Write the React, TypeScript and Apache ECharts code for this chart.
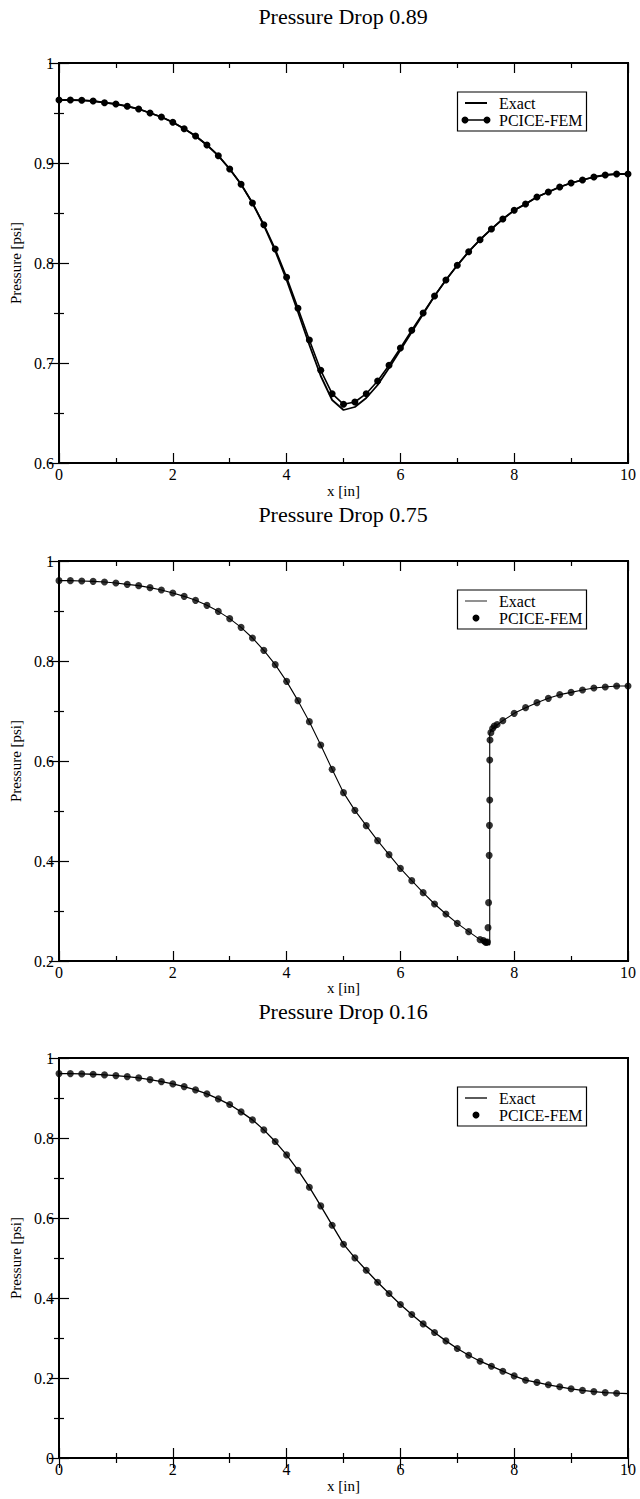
import React, { useEffect, useRef } from "react";
import * as echarts from "echarts";

const titles = ["Pressure Drop 0.89", "Pressure Drop 0.75", "Pressure Drop 0.16"];
const seriesNames = ["Exact", "PCICE-FEM"];
const xAxisName = "x [in]";
const yAxisName = "Pressure [psi]";

// Panel 1 (pressure drop 0.89)
const x1 = [0, 0.2, 0.4, 0.6, 0.8, 1.0, 1.2, 1.4, 1.6, 1.8, 2.0, 2.2, 2.4, 2.6, 2.8, 3.0, 3.2, 3.4, 3.6, 3.8, 4.0, 4.2, 4.4, 4.6, 4.8, 5.0, 5.2, 5.4, 5.6, 5.8, 6.0, 6.2, 6.4, 6.6, 6.8, 7.0, 7.2, 7.4, 7.6, 7.8, 8.0, 8.2, 8.4, 8.6, 8.8, 9.0, 9.2, 9.4, 9.6, 9.8, 10.0];
const fem1 = [0.963, 0.963, 0.9627, 0.962, 0.9603, 0.959, 0.9567, 0.954, 0.95, 0.946, 0.9407, 0.9343, 0.927, 0.918, 0.9073, 0.894, 0.8787, 0.86, 0.8383, 0.814, 0.7857, 0.7547, 0.723, 0.6927, 0.6693, 0.6587, 0.661, 0.6693, 0.682, 0.6977, 0.715, 0.7327, 0.75, 0.767, 0.783, 0.7977, 0.8113, 0.8233, 0.834, 0.844, 0.8527, 0.859, 0.866, 0.871, 0.876, 0.88, 0.883, 0.886, 0.888, 0.889, 0.889];
const exact1 = [0.963, 0.963, 0.9627, 0.962, 0.9603, 0.959, 0.9567, 0.954, 0.95, 0.946, 0.9407, 0.9343, 0.927, 0.918, 0.9073, 0.894, 0.8787, 0.86, 0.8375, 0.812, 0.783, 0.751, 0.718, 0.687, 0.663, 0.653, 0.656, 0.665, 0.678, 0.695, 0.713, 0.731, 0.749, 0.767, 0.783, 0.7977, 0.8113, 0.8233, 0.834, 0.844, 0.8527, 0.859, 0.866, 0.871, 0.876, 0.88, 0.883, 0.886, 0.888, 0.889, 0.889];

// Panel 2 (pressure drop 0.75)
const x2Fem = [0, 0.2, 0.4, 0.6, 0.8, 1.0, 1.2, 1.4, 1.6, 1.8, 2.0, 2.2, 2.4, 2.6, 2.8, 3.0, 3.2, 3.4, 3.6, 3.8, 4.0, 4.2, 4.4, 4.6, 4.8, 5.0, 5.2, 5.4, 5.6, 5.8, 6.0, 6.2, 6.4, 6.6, 6.8, 7.0, 7.2, 7.4, 7.46, 7.49, 7.51, 7.53, 7.54, 7.55, 7.56, 7.565, 7.57, 7.57, 7.575, 7.59, 7.62, 7.65, 7.7, 7.8, 8.0, 8.2, 8.4, 8.6, 8.8, 9.0, 9.2, 9.4, 9.6, 9.8, 10.0];
const fem2 = [0.9607, 0.9607, 0.96, 0.9593, 0.958, 0.956, 0.9533, 0.9507, 0.9467, 0.942, 0.936, 0.9293, 0.9213, 0.9113, 0.8993, 0.8847, 0.8673, 0.846, 0.8213, 0.7927, 0.7593, 0.7207, 0.6787, 0.632, 0.5833, 0.5367, 0.5013, 0.4707, 0.4407, 0.4127, 0.3853, 0.3607, 0.3367, 0.314, 0.294, 0.2753, 0.2587, 0.2427, 0.241, 0.238, 0.237, 0.238, 0.2667, 0.3167, 0.4113, 0.4713, 0.522, 0.602, 0.642, 0.6567, 0.665, 0.67, 0.673, 0.6807, 0.6953, 0.7067, 0.7167, 0.7253, 0.7327, 0.7373, 0.742, 0.746, 0.748, 0.75, 0.75];
const x2Exact = [0, 0.2, 0.4, 0.6, 0.8, 1.0, 1.2, 1.4, 1.6, 1.8, 2.0, 2.2, 2.4, 2.6, 2.8, 3.0, 3.2, 3.4, 3.6, 3.8, 4.0, 4.2, 4.4, 4.6, 4.8, 5.0, 5.2, 5.4, 5.6, 5.8, 6.0, 6.2, 6.4, 6.6, 6.8, 7.0, 7.2, 7.4, 7.5, 7.57, 7.57, 7.6, 7.7, 7.8, 8.0, 8.2, 8.4, 8.6, 8.8, 9.0, 9.2, 9.4, 9.6, 9.8, 10.0];
const exact2 = [0.9607, 0.9607, 0.96, 0.9593, 0.958, 0.956, 0.9533, 0.9507, 0.9467, 0.942, 0.936, 0.9293, 0.9213, 0.9113, 0.8993, 0.8847, 0.8673, 0.846, 0.8213, 0.7927, 0.7593, 0.7207, 0.6787, 0.632, 0.5833, 0.5367, 0.5013, 0.4707, 0.4407, 0.4127, 0.3853, 0.3607, 0.3367, 0.314, 0.294, 0.2753, 0.2587, 0.2427, 0.236, 0.232, 0.655, 0.663, 0.672, 0.6807, 0.6953, 0.7067, 0.7167, 0.7253, 0.7327, 0.7373, 0.742, 0.746, 0.748, 0.75, 0.75];

// Panel 3 (pressure drop 0.16)
const x3Fem = [0, 0.2, 0.4, 0.6, 0.8, 1.0, 1.2, 1.4, 1.6, 1.8, 2.0, 2.2, 2.4, 2.6, 2.8, 3.0, 3.2, 3.4, 3.6, 3.8, 4.0, 4.2, 4.4, 4.6, 4.8, 5.0, 5.2, 5.4, 5.6, 5.8, 6.0, 6.2, 6.4, 6.6, 6.8, 7.0, 7.2, 7.4, 7.6, 7.8, 8.0, 8.2, 8.4, 8.6, 8.8, 9.0, 9.2, 9.4, 9.6, 9.8];
const fem3 = [0.961, 0.961, 0.9603, 0.9594, 0.9578, 0.956, 0.9535, 0.9503, 0.946, 0.941, 0.9353, 0.9285, 0.9203, 0.9103, 0.8978, 0.8836, 0.8653, 0.8453, 0.8203, 0.7911, 0.7578, 0.7195, 0.677, 0.6303, 0.582, 0.5345, 0.5003, 0.4695, 0.4395, 0.4112, 0.3837, 0.3587, 0.3353, 0.3137, 0.2928, 0.2737, 0.257, 0.242, 0.2295, 0.217, 0.2053, 0.1945, 0.189, 0.183, 0.178, 0.173, 0.169, 0.166, 0.1635, 0.162];
const x3Exact = [0, 0.2, 0.4, 0.6, 0.8, 1.0, 1.2, 1.4, 1.6, 1.8, 2.0, 2.2, 2.4, 2.6, 2.8, 3.0, 3.2, 3.4, 3.6, 3.8, 4.0, 4.2, 4.4, 4.6, 4.8, 5.0, 5.2, 5.4, 5.6, 5.8, 6.0, 6.2, 6.4, 6.6, 6.8, 7.0, 7.2, 7.4, 7.6, 7.8, 8.0, 8.2, 8.4, 8.6, 8.8, 9.0, 9.2, 9.4, 9.6, 9.8, 10.0];
const exact3 = [0.961, 0.961, 0.9603, 0.9594, 0.9578, 0.956, 0.9535, 0.9503, 0.946, 0.941, 0.9353, 0.9285, 0.9203, 0.9103, 0.8978, 0.8836, 0.8653, 0.8453, 0.8203, 0.7911, 0.7578, 0.7195, 0.677, 0.6303, 0.582, 0.5345, 0.5003, 0.4695, 0.4395, 0.4112, 0.3837, 0.3587, 0.3353, 0.3137, 0.2928, 0.2737, 0.257, 0.242, 0.2295, 0.217, 0.2053, 0.1945, 0.189, 0.183, 0.178, 0.173, 0.169, 0.166, 0.1635, 0.162, 0.161];

// Axis ranges: [min, max, interval]
const xRange = [0, 10, 2];
const yRanges = [
  [0.6, 1, 0.1],
  [0.2, 1, 0.2],
  [0, 1, 0.2],
];

const pair = (xs: number[], ys: number[]) => xs.map((x, i) => [x, ys[i]]);

const FONT = "'Liberation Serif', 'Times New Roman', serif";
const GRID_LEFT = 58;
const GRID_W = 570;
const GRID_H = 400;
const TOPS = [63, 561, 1058];
const X_NAME_GAPS = [20, 16, 20];

const tickCommon = {
  axisLine: { show: true, lineStyle: { color: "#000", width: 2 } },
  axisTick: { show: true, inside: true, length: 10, lineStyle: { color: "#000", width: 1.2 } },
  minorTick: { show: true, splitNumber: 2, length: 5, lineStyle: { color: "#000", width: 1.2 } },
  splitLine: { show: false },
  minorSplitLine: { show: false },
};

export default function App() {
  const ref = useRef<HTMLDivElement>(null);

  useEffect(() => {
    if (!ref.current) return;
    const chart = echarts.init(ref.current, undefined, { renderer: "svg" });

    const grids: any[] = [];
    const xAxes: any[] = [];
    const yAxes: any[] = [];
    const titleOpts: any[] = [];
    const graphics: any[] = [];

    TOPS.forEach((top, i) => {
      grids.push({
        left: GRID_LEFT,
        top,
        width: GRID_W,
        height: GRID_H,
        show: true,
        borderColor: "#000",
        borderWidth: 2,
        backgroundColor: "transparent",
      });
      const [ymin, ymax, yint] = yRanges[i];
      xAxes.push({
        ...tickCommon,
        gridIndex: i,
        type: "value",
        position: "bottom",
        min: xRange[0],
        max: xRange[1],
        interval: xRange[2],
        axisLabel: { color: "#000", fontFamily: FONT, fontSize: 16, margin: 3 },
        name: xAxisName,
        nameLocation: "middle",
        nameGap: X_NAME_GAPS[i],
        nameTextStyle: { color: "#000", fontFamily: FONT, fontSize: 15 },
      });
      xAxes.push({
        ...tickCommon,
        gridIndex: i,
        type: "value",
        position: "top",
        min: xRange[0],
        max: xRange[1],
        interval: xRange[2],
        axisLabel: { show: false },
      });
      yAxes.push({
        ...tickCommon,
        gridIndex: i,
        type: "value",
        position: "left",
        min: ymin,
        max: ymax,
        interval: yint,
        axisLabel: { color: "#000", fontFamily: FONT, fontSize: 16, margin: 5 },
        name: yAxisName,
        nameLocation: "middle",
        nameGap: 36,
        nameTextStyle: { color: "#000", fontFamily: FONT, fontSize: 15 },
      });
      yAxes.push({
        ...tickCommon,
        gridIndex: i,
        type: "value",
        position: "right",
        min: ymin,
        max: ymax,
        interval: yint,
        axisLabel: { show: false },
      });
      titleOpts.push({
        text: titles[i],
        left: GRID_LEFT + GRID_W / 2,
        textAlign: "center",
        top: top - 58,
        padding: 0,
        textStyle: { color: "#000", fontFamily: FONT, fontSize: 22, fontWeight: "normal" },
      });

      // legend box (xmgrace style)
      const bx = 457.5;
      const by = top + 29;
      const l1 = by + 11;
      const l2 = by + 28;
      const children: any[] = [
        { type: "rect", shape: { x: bx, y: by, width: 129, height: 39 }, style: { fill: "#fff", stroke: "#000", lineWidth: 1.2 } },
        { type: "line", shape: { x1: 465, y1: l1, x2: 487, y2: l1 }, style: { stroke: i === 1 ? "#555" : "#000", lineWidth: i === 0 ? 2 : 1.3 } },
        { type: "text", style: { x: 499, y: l1, text: seriesNames[0], fill: "#000", font: `16px ${FONT}`, verticalAlign: "middle" } },
        { type: "text", style: { x: 499, y: l2, text: seriesNames[1], fill: "#000", font: `16px ${FONT}`, verticalAlign: "middle" } },
      ];
      if (i === 0) {
        children.push({ type: "line", shape: { x1: 465, y1: l2, x2: 487, y2: l2 }, style: { stroke: "#000", lineWidth: 1.5 } });
        children.push({ type: "circle", shape: { cx: 465, cy: l2, r: 3.5 }, style: { fill: "#000" } });
        children.push({ type: "circle", shape: { cx: 487, cy: l2, r: 3.5 }, style: { fill: "#000" } });
      } else {
        children.push({ type: "circle", shape: { cx: 476, cy: l2, r: 3.5 }, style: { fill: "#000" } });
      }
      graphics.push({ type: "group", z: 100, children });
    });

    const series: any[] = [
      {
        name: seriesNames[0], type: "line", xAxisIndex: 0, yAxisIndex: 0,
        data: pair(x1, exact1), showSymbol: false, symbol: "none",
        lineStyle: { color: "#000", width: 1.8 }, z: 2,
      },
      {
        name: seriesNames[1], type: "line", xAxisIndex: 0, yAxisIndex: 0,
        data: pair(x1, fem1), symbol: "circle", symbolSize: 7, showSymbol: true,
        lineStyle: { color: "#000", width: 1.6 }, itemStyle: { color: "#000" }, z: 3,
      },
      {
        name: seriesNames[0], type: "line", xAxisIndex: 2, yAxisIndex: 2,
        data: pair(x2Exact, exact2), showSymbol: false, symbol: "none",
        lineStyle: { color: "#000", width: 1.1 }, z: 2,
      },
      {
        name: seriesNames[1], type: "scatter", xAxisIndex: 2, yAxisIndex: 2,
        data: pair(x2Fem, fem2), symbol: "circle", symbolSize: 7,
        itemStyle: { color: "#000" }, z: 3,
      },
      {
        name: seriesNames[0], type: "line", xAxisIndex: 4, yAxisIndex: 4,
        data: pair(x3Exact, exact3), showSymbol: false, symbol: "none",
        lineStyle: { color: "#000", width: 1.3 }, z: 2,
      },
      {
        name: seriesNames[1], type: "scatter", xAxisIndex: 4, yAxisIndex: 4,
        data: pair(x3Fem, fem3), symbol: "circle", symbolSize: 7,
        itemStyle: { color: "#000" }, z: 3,
      },
    ];

    chart.setOption({
      animation: false,
      backgroundColor: "#fff",
      title: titleOpts,
      grid: grids,
      xAxis: xAxes,
      yAxis: yAxes,
      series,
      graphic: graphics,
    });

    return () => chart.dispose();
  }, []);

  return (
    <div
      ref={ref}
      style={{ position: "absolute", left: 0, top: 0, width: 640, height: 1499, background: "#fff" }}
    />
  );
}
